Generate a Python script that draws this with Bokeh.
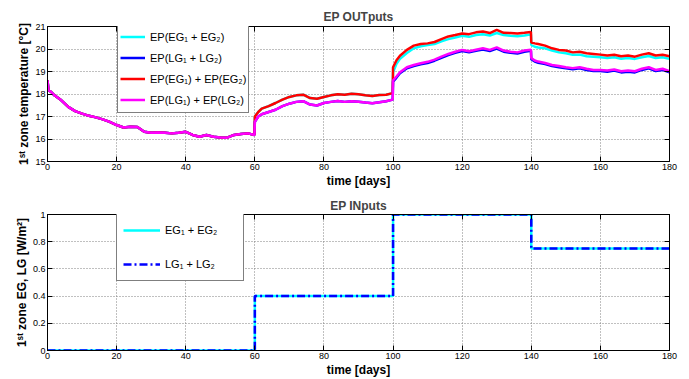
from bokeh.plotting import figure
from bokeh.layouts import column
from bokeh.models import (Legend, LegendItem, FixedTicker, LinearAxis, Range1d)
from bokeh.embed import file_html
from bokeh.resources import INLINE

# ---------------- data: EP outputs (zone temperature, deg C) ----------------
t_out = [0, 0.3, 1, 2, 4, 6, 8, 10, 12, 14, 16, 18, 20, 22, 24, 26, 28, 30, 32, 34,
         36, 38, 40, 42, 44, 46, 48, 50, 52, 54, 56, 58, 59.9,
         60, 61, 62, 64, 66, 68, 70, 72, 74, 76, 78, 80, 82, 84, 86, 88, 90, 92, 94,
         96, 98, 99.9,
         100, 101, 102, 104, 106, 108, 110, 112, 114, 116, 118, 120, 122, 124, 126,
         128, 130, 132, 134, 136, 138, 139.9,
         140, 141, 142, 144, 146, 148, 150, 152, 154, 156, 158, 160, 162, 164, 166,
         168, 170, 172, 174, 176, 178, 180]

first60 = [18.6, 18.16, 18.1, 17.94, 17.72, 17.43, 17.24, 17.13, 17.03, 16.96, 16.87,
           16.76, 16.62, 16.51, 16.54, 16.53, 16.32, 16.28, 16.29, 16.28, 16.25, 16.28,
           16.32, 16.18, 16.10, 16.18, 16.10, 16.07, 16.06, 16.18, 16.22, 16.25, 16.18]

ep_eg_sum = first60 + [
    17.0, 17.2, 17.35, 17.46, 17.6, 17.75, 17.87, 17.94, 17.97, 17.82, 17.79, 17.87,
    17.94, 17.99, 17.97, 18.01, 17.99, 17.94, 17.91, 17.96, 17.97, 18.04,
    18.97, 19.34, 19.56, 19.82, 20.03, 20.12, 20.18, 20.22, 20.34, 20.44, 20.51, 20.59,
    20.54, 20.62, 20.66, 20.6, 20.71, 20.62, 20.59, 20.57, 20.6, 20.65,
    20.18, 20.1, 20.07, 20.03, 19.93, 19.85, 19.81, 19.74, 19.75, 19.68, 19.66, 19.63,
    19.6, 19.63, 19.57, 19.6, 19.56, 19.63, 19.69, 19.6, 19.63, 19.56]

ep_lg_sum = first60 + [
    16.76, 17.0, 17.1, 17.2, 17.3, 17.46, 17.57, 17.65, 17.68, 17.53, 17.49, 17.6,
    17.65, 17.69, 17.65, 17.68, 17.66, 17.62, 17.59, 17.63, 17.68, 17.75,
    18.55, 18.73, 18.92, 19.14, 19.24, 19.32, 19.38, 19.48, 19.61, 19.73, 19.83, 19.91,
    19.85, 19.92, 19.98, 19.91, 20.02, 19.88, 19.83, 19.8, 19.88, 19.92,
    19.55, 19.44, 19.39, 19.33, 19.24, 19.19, 19.14, 19.1, 19.14, 19.07, 19.02, 19.02,
    18.99, 19.04, 18.96, 18.99, 18.96, 19.07, 19.14, 19.02, 19.07, 18.96]

ep_eg_parts = first60 + [
    17.0, 17.2, 17.35, 17.46, 17.6, 17.75, 17.87, 17.94, 17.97, 17.82, 17.79, 17.87,
    17.94, 17.99, 17.97, 18.01, 17.99, 17.94, 17.91, 17.96, 17.97, 18.04,
    19.19, 19.5, 19.7, 19.96, 20.15, 20.22, 20.25, 20.31, 20.44, 20.56, 20.62, 20.69,
    20.66, 20.74, 20.78, 20.71, 20.85, 20.72, 20.71, 20.69, 20.72, 20.76,
    20.29, 20.25, 20.22, 20.15, 20.03, 19.96, 19.93, 19.85, 19.88, 19.81, 19.78, 19.75,
    19.71, 19.74, 19.68, 19.71, 19.66, 19.75, 19.81, 19.71, 19.74, 19.68]

ep_lg_parts = first60 + [
    16.76, 17.0, 17.1, 17.2, 17.3, 17.46, 17.57, 17.65, 17.68, 17.53, 17.49, 17.6,
    17.65, 17.69, 17.65, 17.68, 17.66, 17.62, 17.59, 17.63, 17.68, 17.75,
    18.6, 18.78, 18.97, 19.19, 19.29, 19.37, 19.43, 19.53, 19.66, 19.78, 19.88, 19.96,
    19.9, 19.97, 20.03, 19.96, 20.07, 19.93, 19.88, 19.85, 19.93, 19.97,
    19.6, 19.49, 19.44, 19.38, 19.29, 19.24, 19.19, 19.15, 19.19, 19.12, 19.07, 19.07,
    19.04, 19.09, 19.01, 19.04, 19.01, 19.12, 19.19, 19.07, 19.12, 19.01]

# ---------------- data: EP inputs (W/m^2), step changes ----------------
t_in = [0, 60, 100, 140, 180]
eg_in = [0, 0.4, 1.0, 0.75, 0.75]
lg_in = [0, 0.4, 1.0, 0.75, 0.75]

x_ticks = [0, 20, 40, 60, 80, 100, 120, 140, 160, 180]
y_ticks_out = [15, 16, 17, 18, 19, 20, 21]
y_ticks_in = [0, 0.2, 0.4, 0.6, 0.8, 1.0]

FONT = "Liberation Sans"


def style(p, xt, yt, xlabel, ylabel, title_pad):
    p.xaxis.ticker = FixedTicker(ticks=xt)
    p.yaxis.ticker = FixedTicker(ticks=yt)
    for ax in [p.xaxis[0], p.yaxis[0]]:
        ax.major_tick_in = 5
        ax.major_tick_out = 0
        ax.minor_tick_in = 0
        ax.minor_tick_out = 0
        ax.axis_line_color = "black"
        ax.major_tick_line_color = "black"
        ax.major_label_text_font = FONT
        ax.major_label_text_font_size = "9px"
        ax.major_label_text_color = "black"
        ax.major_label_standoff = 2
        ax.axis_label_text_font = FONT
        ax.axis_label_text_font_size = "12px"
        ax.axis_label_text_font_style = "bold"
        ax.axis_label_text_color = "black"
        ax.axis_label_standoff = 1
    p.xaxis.axis_label = xlabel
    p.yaxis.axis_label = ylabel
    p.xgrid.ticker = FixedTicker(ticks=xt)
    p.ygrid.ticker = FixedTicker(ticks=yt)
    p.grid.grid_line_color = "#808080"
    p.grid.grid_line_dash = "1 2"
    p.grid.grid_line_width = 1
    p.outline_line_color = "black"
    p.outline_line_width = 1
    p.outline_line_alpha = 1
    for loc in ["above", "right"]:
        ticks = xt if loc == "above" else yt
        a = LinearAxis(ticker=FixedTicker(ticks=ticks))
        a.major_tick_in = 5
        a.major_tick_out = 0
        a.minor_tick_in = 0
        a.minor_tick_out = 0
        a.major_label_overrides = {t: "" for t in ticks}
        a.major_label_standoff = 0
        a.axis_line_color = "black"
        a.major_tick_line_color = "black"
        p.add_layout(a, loc)
    p.title.text_font = FONT
    p.title.text_font_size = "12px"
    p.title.text_font_style = "bold"
    p.title.align = "center"
    p.title.standoff = 0
    p.title.offset = 0
    p.title.padding = title_pad


# ---------------- top figure ----------------
p1 = figure(width=689, height=190, output_backend="svg", toolbar_location=None,
            x_range=Range1d(0, 180), y_range=Range1d(15, 21),
            title="EP OUTputs", min_border_left=47, min_border_right=20,
            min_border_top=26, min_border_bottom=28)
style(p1, x_ticks, y_ticks_out, "time [days]", "1ˢᵗ zone temperature [°C]", 3)

LW = 2.5
r_c = p1.line(t_out, ep_eg_sum, line_color="#00FFFF", line_width=LW)
r_b = p1.line(t_out, ep_lg_sum, line_color="#0000FF", line_width=LW)
r_r = p1.line(t_out, ep_eg_parts, line_color="#FF0000", line_width=LW)
r_m = p1.line(t_out, ep_lg_parts, line_color="#FF00FF", line_width=LW)

leg1 = Legend(items=[
    LegendItem(label="EP(EG₁ + EG₂)", renderers=[r_c]),
    LegendItem(label="EP(LG₁ + LG₂)", renderers=[r_b]),
    LegendItem(label="EP(EG₁) + EP(EG₂)", renderers=[r_r]),
    LegendItem(label="EP(LG₁) + EP(LG₂)", renderers=[r_m]),
], location=(70, 48), orientation="vertical")
leg1.label_text_font = FONT
leg1.label_text_font_size = "11px"
leg1.label_text_color = "black"
leg1.label_height = 21
leg1.glyph_height = 21
leg1.glyph_width = 25
leg1.label_width = 93
leg1.label_standoff = 5
leg1.spacing = 0
leg1.padding = 2
leg1.margin = 0
leg1.border_line_color = "black"
leg1.border_line_width = 1
leg1.background_fill_alpha = 1
p1.add_layout(leg1, "center")

# ---------------- bottom figure ----------------
p2 = figure(width=689, height=189, output_backend="svg", toolbar_location=None,
            x_range=Range1d(0, 180), y_range=Range1d(0, 1),
            title="EP INputs", min_border_left=47, min_border_right=20,
            min_border_top=24, min_border_bottom=29)
style(p2, x_ticks, y_ticks_in, "time [days]", "1ˢᵗ zone EG, LG [W/m²]", 2)
p2.yaxis[0].major_label_overrides = {0: "0", 1: "1"}

s_c = p2.step(t_in, eg_in, mode="after", line_color="#00FFFF", line_width=LW)
s_b = p2.step(t_in, lg_in, mode="after", line_color="#0000FF", line_width=LW,
              line_dash="8 3 2 3")

leg2 = Legend(items=[
    LegendItem(label="EG₁ + EG₂", renderers=[s_c]),
    LegendItem(label="LG₁ + LG₂", renderers=[s_b]),
], location=(69, 69), orientation="vertical")
leg2.label_text_font = FONT
leg2.label_text_font_size = "11px"
leg2.label_text_color = "black"
leg2.label_height = 20
leg2.glyph_height = 20
leg2.glyph_width = 37
leg2.label_width = 72
leg2.label_standoff = 5
leg2.spacing = 14
leg2.padding = 6
leg2.margin = 0
leg2.border_line_color = "black"
leg2.border_line_width = 1
leg2.background_fill_alpha = 1
p2.add_layout(leg2, "center")

layout = column(p1, p2, spacing=0)
open("out.html", "w").write(file_html(layout, INLINE))
